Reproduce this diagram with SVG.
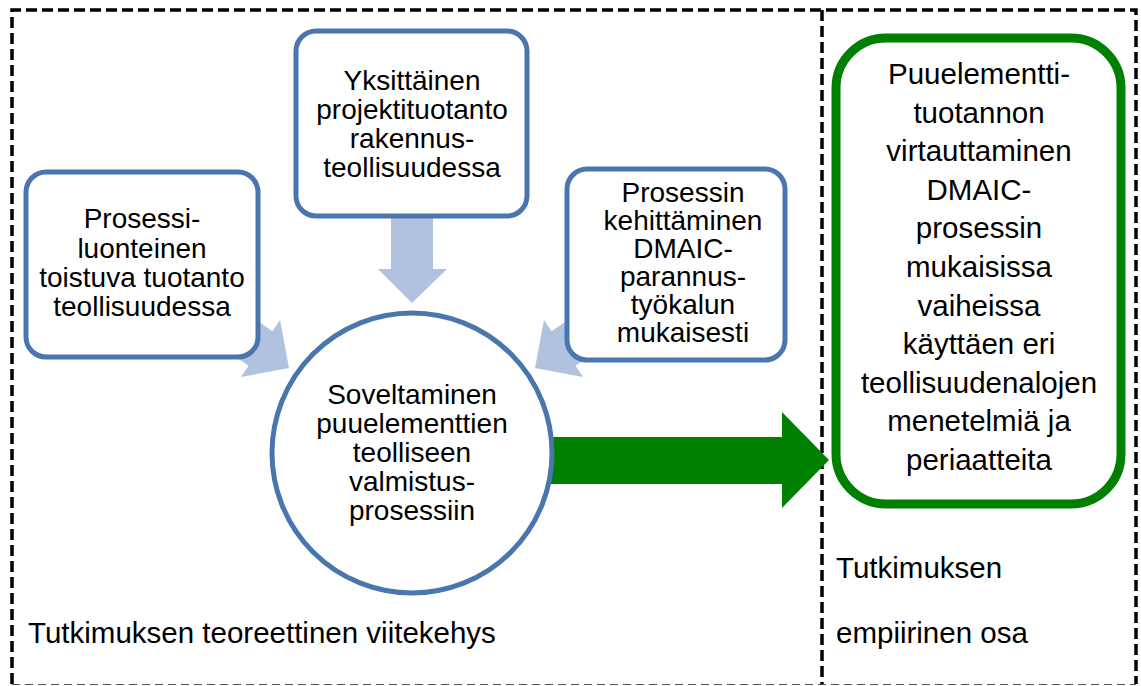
<svg xmlns="http://www.w3.org/2000/svg" width="1141" height="686" viewBox="0 0 1141 686">
  <style>
    .frame { fill: none; stroke: #000; stroke-width: 3.5; stroke-dasharray: 11 5; }
    .frame-base { fill: none; stroke: #555; stroke-width: 1.2; stroke-dasharray: 8 5; }
    .src { fill: #fff; stroke: #4A76AD; stroke-width: 5; }
    .goal { fill: #fff; stroke: #008000; stroke-width: 9; }
    .feed { fill: #B0C2DF; }
    .flow { fill: #008000; }
    text { font-family: "Liberation Sans", Arial, sans-serif; font-size: 28px; fill: #000; }
    .c { text-anchor: middle; }
    .big { font-size: 29.5px; }
  </style>

  <rect width="1141" height="686" fill="#fff"/>

  <!-- dashed frames: theory part and empirical part -->
  <g id="frames">
    <path class="frame" d="M12 684 V10 H1136 V684"/>
    <path class="frame" d="M822 10 V684"/>
    <path class="frame-base" d="M12 684.5 H1136"/>
  </g>

  <!-- connectors -->
  <g id="connectors">
    <!-- from upper-left box -->
    <polygon class="feed" points="173.3,263.4 272.4,331.2 280,320 289,368 241,377 248.6,365.8 149.5,298"/>
    <!-- from top box -->
    <polygon class="feed" points="391,200 433,200 433,269 447,269 412,303 378,269 391,269"/>
    <!-- from upper-right box -->
    <polygon class="feed" points="650.7,263.4 551.6,331.2 544,320 535,368 583,377 575.4,365.8 674.5,298"/>
    <!-- to empirical part -->
    <polygon class="flow" points="540,437 782,437 782,412 829,460 782,508 782,484 540,484"/>
  </g>

  <g id="node-process-industry">
    <rect class="src" x="26" y="172" width="232" height="185" rx="20"/>
    <text class="c" x="142" y="228">Prosessi-</text>
    <text class="c" x="142" y="258">luonteinen</text>
    <text class="c" x="142" y="287">toistuva tuotanto</text>
    <text class="c" x="142" y="316">teollisuudessa</text>
  </g>

  <g id="node-project-production">
    <rect class="src" x="296" y="31" width="231" height="185" rx="20"/>
    <text class="c" x="412" y="90">Yksittäinen</text>
    <text class="c" x="412" y="119">projektituotanto</text>
    <text class="c" x="412" y="148">rakennus-</text>
    <text class="c" x="412" y="177">teollisuudessa</text>
  </g>

  <g id="node-dmaic">
    <rect class="src" x="567" y="169" width="218" height="191" rx="20"/>
    <text class="c" x="683" y="202">Prosessin</text>
    <text class="c" x="683" y="230">kehittäminen</text>
    <text class="c" x="683" y="258">DMAIC-</text>
    <text class="c" x="683" y="286">parannus-</text>
    <text class="c" x="683" y="314">työkalun</text>
    <text class="c" x="683" y="342">mukaisesti</text>
  </g>

  <g id="node-application">
    <circle class="src" cx="412" cy="453" r="140"/>
    <text class="c" x="412" y="404">Soveltaminen</text>
    <text class="c" x="412" y="433">puuelementtien</text>
    <text class="c" x="412" y="462">teolliseen</text>
    <text class="c" x="412" y="491">valmistus-</text>
    <text class="c" x="412" y="520">prosessiin</text>
  </g>

  <g id="node-result">
    <rect class="goal" x="836" y="38" width="285" height="466" rx="50"/>
    <g class="big">
      <text class="c big" x="979" y="84">Puuelementti-</text>
      <text class="c big" x="979" y="123">tuotannon</text>
      <text class="c big" x="979" y="161">virtauttaminen</text>
      <text class="c big" x="979" y="200">DMAIC-</text>
      <text class="c big" x="979" y="238">prosessin</text>
      <text class="c big" x="979" y="277">mukaisissa</text>
      <text class="c big" x="979" y="316">vaiheissa</text>
      <text class="c big" x="979" y="354">käyttäen eri</text>
      <text class="c big" x="979" y="393">teollisuudenalojen</text>
      <text class="c big" x="979" y="431">menetelmiä ja</text>
      <text class="c big" x="979" y="470">periaatteita</text>
    </g>
  </g>

  <g id="labels">
    <text class="big" x="28" y="643">Tutkimuksen teoreettinen viitekehys</text>
    <text class="big" x="836" y="578">Tutkimuksen</text>
    <text class="big" x="836" y="643">empiirinen osa</text>
  </g>
</svg>
